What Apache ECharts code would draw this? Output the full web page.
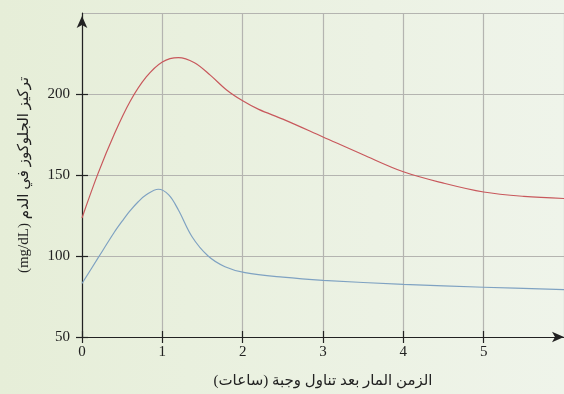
<!DOCTYPE html>
<html>
<head>
<meta charset="utf-8">
<script src="https://cdn.jsdelivr.net/npm/echarts@6/dist/echarts.min.js"></script>
<style>
html,body{margin:0;padding:0;background:#e9efdf;overflow:hidden;}
#chart{width:564px;height:394px;direction:rtl;}
</style>
</head>
<body>
<div id="chart"></div>
<script>
// Time after meal (hours) and glucose concentration (mg/dL)
const timeRed = [0, 0.2, 0.4, 0.6, 0.8, 1.0, 1.2, 1.4, 1.6, 1.8, 2.0, 2.2, 2.5, 3.0, 3.5, 4.0, 4.5, 5.0, 5.5, 6.0];
const glucoseRed = [123.5, 151, 175, 195.5, 210.5, 219.8, 222.5, 219.3, 211.5, 202.5, 195.8, 190.5, 184.5, 173.5, 162.5, 152, 145, 139.5, 136.8, 135.5];
const timeBlue = [0, 0.2, 0.4, 0.5, 0.6, 0.7, 0.8, 0.95, 1.08, 1.2, 1.37, 1.57, 1.78, 2.03, 2.5, 3.0, 4.0, 5.0, 6.0];
const glucoseBlue = [83, 98.8, 114.5, 121.5, 128, 133.5, 137.8, 141.2, 137.7, 128.4, 111.9, 100, 93.4, 89.7, 86.9, 85, 82.5, 80.7, 79.3];
const xTicks = [0, 1, 2, 3, 4, 5];
const yTicks = [50, 100, 150, 200];
const xTitle = 'الزمن المار بعد تناول وجبة (ساعات)';
const yTitle = 'تركيز الجلوكوز في الدم (mg/dL)';

const chart = echarts.init(document.getElementById('chart'), null, {renderer: 'canvas'});
const font = "'Liberation Serif', 'DejaVu Serif', 'DejaVu Sans', serif";
const pair = (xs, ys) => xs.map((x, i) => [x, ys[i]]);
const tickStyle = {color: '#222', width: 1.2};
const gridStyle = {color: '#b4b4b0', width: 1.2};
chart.setOption({
  animation: false,
  backgroundColor: {
    type: 'linear', x: 0, y: 0, x2: 1, y2: 0,
    colorStops: [{offset: 0, color: '#e6eed8'}, {offset: 1, color: '#eff4ea'}]
  },
  grid: {left: 82, right: -3, top: 13, bottom: 57, containLabel: false},
  xAxis: [{
    type: 'value', min: 0, max: 6, interval: 1,
    axisLine: {show: false},
    axisTick: {show: false}, axisLabel: {show: false},
    splitLine: {show: true, lineStyle: gridStyle}
  }, {
    type: 'value', min: 0, max: 6, interval: 1, position: 'bottom',
    axisLine: {show: false}, axisLabel: {show: false}, splitLine: {show: false},
    axisTick: {show: true, inside: true, length: 6, customValues: xTicks, lineStyle: tickStyle}
  }, {
    type: 'value', min: 0, max: 6, interval: 1, position: 'bottom',
    axisLine: {show: true, symbol: ['none', 'arrow'], symbolSize: [8, 12], symbolOffset: [0, 0], lineStyle: {color: '#222', width: 1.2}},
    axisTick: {show: true, length: 6, customValues: xTicks, lineStyle: tickStyle},
    axisLabel: {color: '#222', fontSize: 15, fontFamily: font, margin: 8, customValues: xTicks},
    splitLine: {show: false},
    name: xTitle, nameLocation: 'middle', nameGap: 37,
    nameTextStyle: {color: '#222', fontSize: 15, fontFamily: font}
  }],
  yAxis: [{
    type: 'value', min: 50, max: 250, interval: 50,
    axisLine: {show: false}, axisTick: {show: false}, axisLabel: {show: false},
    splitLine: {show: true, lineStyle: gridStyle}
  }, {
    type: 'value', min: 50, max: 250, interval: 50, position: 'left',
    axisLine: {show: false}, axisLabel: {show: false}, splitLine: {show: false},
    axisTick: {show: true, inside: true, length: 6, customValues: yTicks, lineStyle: tickStyle}
  }, {
    type: 'value', min: 50, max: 250, interval: 50, position: 'left',
    axisLine: {show: true, symbol: ['none', 'arrow'], symbolSize: [8, 12], symbolOffset: [0, -3], lineStyle: {color: '#222', width: 1.2}},
    axisTick: {show: true, length: 6, customValues: yTicks, lineStyle: tickStyle},
    axisLabel: {color: '#222', fontSize: 15, fontFamily: font, margin: 12, customValues: yTicks},
    splitLine: {show: false},
    name: yTitle, nameLocation: 'middle', nameGap: 50, nameRotate: 90,
    nameTextStyle: {color: '#222', fontSize: 15, fontFamily: font}
  }],
  series: [{
    type: 'line', data: pair(timeRed, glucoseRed), smooth: 0.35,
    xAxisIndex: 0, yAxisIndex: 0,
    showSymbol: false, lineStyle: {color: '#c8585c', width: 1.2}
  }, {
    type: 'line', data: pair(timeBlue, glucoseBlue), smooth: 0.35,
    xAxisIndex: 0, yAxisIndex: 0,
    showSymbol: false, lineStyle: {color: '#7fa2c2', width: 1.2}
  }]
});
</script>
</body>
</html>
